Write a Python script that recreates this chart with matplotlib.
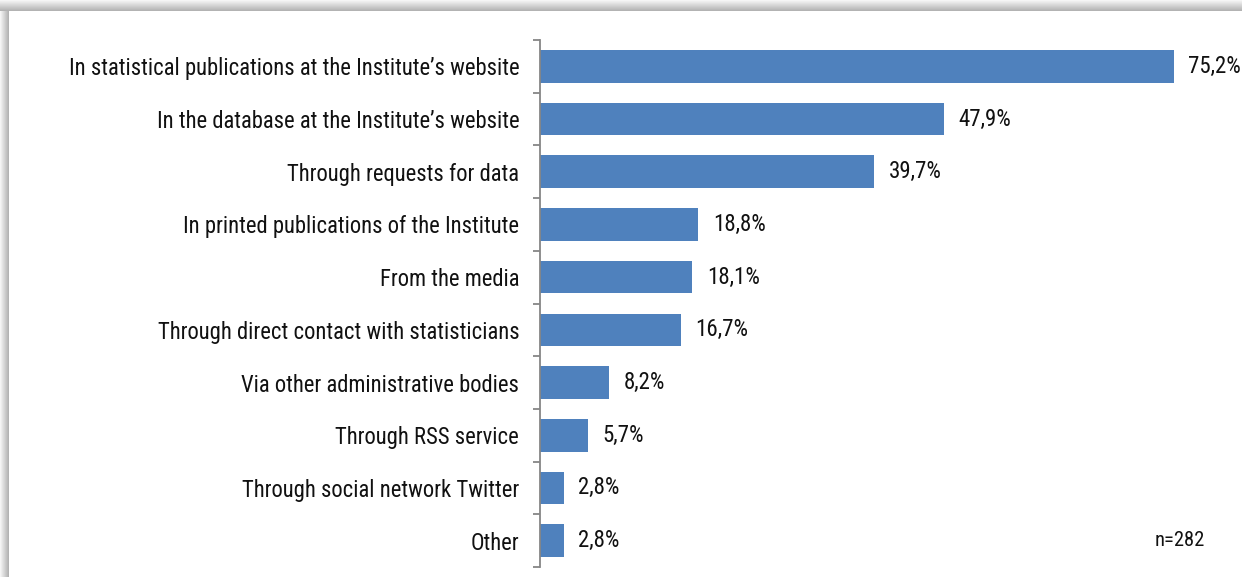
import numpy as np
import matplotlib.pyplot as plt
from matplotlib.patches import Rectangle

plt.rcParams['font.family'] = ['Liberation Sans Narrow', 'Roboto Condensed', 'Archivo Narrow', 'DejaVu Sans']

categories = [
    "In statistical publications at the Institute\u2019s website",
    "In the database at the Institute\u2019s website",
    "Through requests for data",
    "In printed publications of the Institute",
    "From the media",
    "Through direct contact with statisticians",
    "Via other administrative bodies",
    "Through RSS service",
    "Through social network Twitter",
    "Other",
]
shares = [75.2, 47.9, 39.7, 18.8, 18.1, 16.7, 8.2, 5.7, 2.8, 2.8]
sample_note = "n=282"

W, H = 1242, 577
fig = plt.figure(figsize=(W / 100, H / 100), dpi=100)
fig.patch.set_facecolor('white')

# soft grey shadow along the top and left edge of the frame
for i in range(11):
    g = 0.96 - 0.26 * i / 10
    fig.patches.append(Rectangle((0, 1 - (i + 1) / H), 1, 1 / H, transform=fig.transFigure,
                                 facecolor=(g, g, g), edgecolor='none', zorder=0))
for i in range(9):
    g = 0.96 - 0.26 * i / 8
    fig.patches.append(Rectangle((i / W, 0), 1 / W, 1 - 11 / H, transform=fig.transFigure,
                                 facecolor=(g, g, g), edgecolor='none', zorder=0))

ax = fig.add_axes([540 / W, 10 / H, 674 / W, 527 / H])
y = np.arange(len(categories))
ax.barh(y, shares, height=0.62, color='#4F81BD', zorder=2)
ax.set_ylim(len(categories) - 0.5, -0.5)
ax.set_xlim(0, 80)

for yi, v in zip(y, shares):
    ax.text(v + 1.7, yi, f"{v:.1f}".replace('.', ',') + '%', va='center', ha='left',
            fontsize=16.5, color='#111111')

ax.set_yticks(y)
ax.set_yticklabels(categories, fontsize=16.3, color='#111111')
ax.tick_params(axis='y', which='major', length=0, pad=15)
ax.set_yticks(np.arange(-0.5, len(categories)), minor=True)
ax.tick_params(axis='y', which='minor', length=5, width=1.3, color='#868686', direction='out')
ax.set_xticks([])
for s in ['top', 'right', 'bottom']:
    ax.spines[s].set_visible(False)
ax.spines['left'].set_color('#868686')
ax.spines['left'].set_linewidth(1.3)

fig.text(1155 / W, 1 - 540 / H, sample_note, fontsize=14.8, va='center', ha='left', color='#111111')

fig.savefig('out.png', dpi=100)
